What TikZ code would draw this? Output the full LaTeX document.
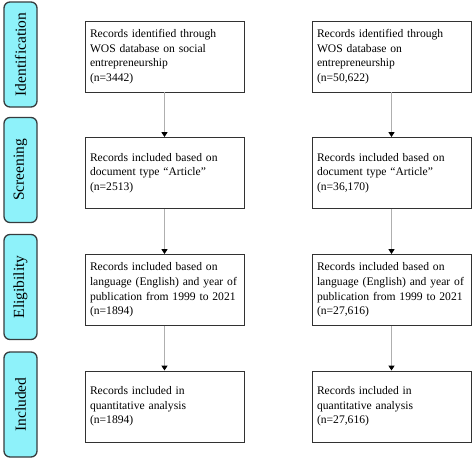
\documentclass[tikz,border=0pt]{standalone}
\usepackage{fontspec}
\setmainfont{Liberation Serif}
\usetikzlibrary{arrows.meta}
\definecolor{sidefill}{RGB}{142,242,250}
\definecolor{sideline}{RGB}{55,60,62}
\definecolor{boxline}{RGB}{50,50,50}
\definecolor{arrline}{RGB}{175,175,175}
\tikzset{
  sidebox/.style={draw=sideline, line width=1.3pt, fill=sidefill, rounded corners=6pt,
    rotate=90, minimum width=105pt, minimum height=33pt, inner sep=0pt,
    font=\fontsize{15.5}{18}\selectfont, anchor=center},
  recbox/.style={draw=boxline, line width=0.9pt, fill=white, minimum width=159pt,
    minimum height=71pt, text width=149pt, inner xsep=5pt, inner ysep=0pt, align=left,
    font=\fontsize{11.6}{14.6}\selectfont, anchor=center},
  arr/.style={draw=arrline, line width=1.3pt, -{Triangle[width=6pt,length=5pt,color=black]}, shorten >=0pt}
}
\begin{document}
\begin{tikzpicture}[x=1pt,y=-1pt]
\useasboundingbox (0,0) rectangle (474,461);
% side labels
\node[sidebox] (s1) at (20.5,54.5) {Identification};
\node[sidebox] (s2) at (20.5,170) {Screening};
\node[sidebox] (s3) at (20.5,287) {Eligibility};
\node[sidebox] (s4) at (20.5,404.5) {Included};
% left column
\node[recbox] (l1) at (164.5,56.5) {Records identified through\\WOS database on social\\entrepreneurship\\(n=3442)};
\node[recbox] (l2) at (164.5,173) {Records included based on\\document type ``Article''\\(n=2513)};
\node[recbox] (l3) at (164.5,290) {Records included based on\\language (English) and year of\\publication from 1999 to 2021\\(n=1894)};
\node[recbox] (l4) at (164.5,406.5) {Records included in\\quantitative analysis\\(n=1894)};
% right column
\node[recbox] (r1) at (391.5,56.5) {Records identified through\\WOS database on\\entrepreneurship\\(n=50,622)};
\node[recbox] (r2) at (391.5,173) {Records included based on\\document type ``Article''\\(n=36,170)};
\node[recbox] (r3) at (391.5,290) {Records included based on\\language (English) and year of\\publication from 1999 to 2021\\(n=27,616)};
\node[recbox] (r4) at (391.5,406.5) {Records included in\\quantitative analysis\\(n=27,616)};
% arrows
\draw[arr] (l1.south) -- (l2.north);
\draw[arr] (l2.south) -- (l3.north);
\draw[arr] (l3.south) -- (l4.north);
\draw[arr] (r1.south) -- (r2.north);
\draw[arr] (r2.south) -- (r3.north);
\draw[arr] (r3.south) -- (r4.north);
\end{tikzpicture}
\end{document}
